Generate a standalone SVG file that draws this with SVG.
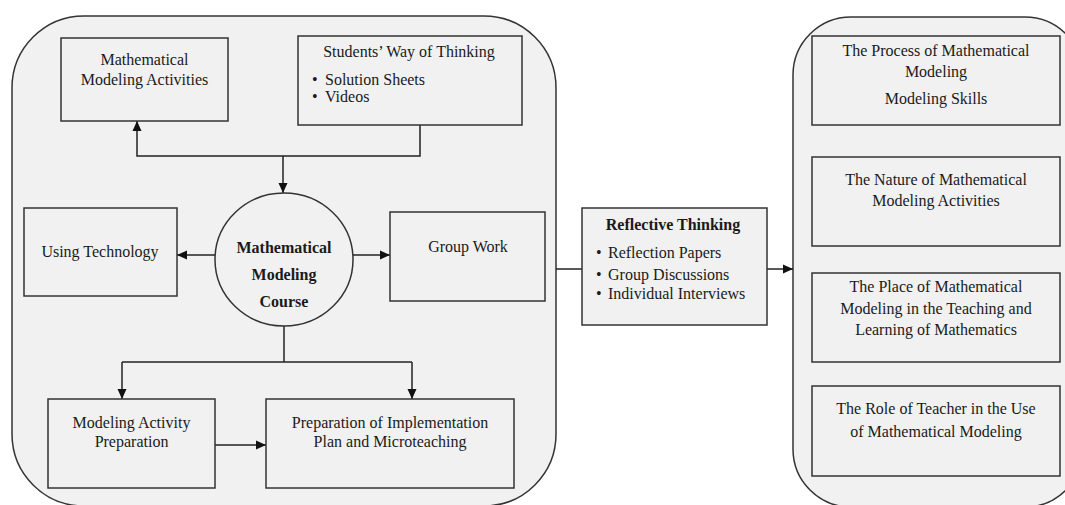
<svg xmlns="http://www.w3.org/2000/svg" width="1065" height="505" viewBox="0 0 1065 505">
<style>
.cont{fill:#f1f1f1;stroke:#333;stroke-width:1.5}
.box{fill:#f1f1f1;stroke:#333;stroke-width:1.5}
.t{font-family:"Liberation Serif","Times New Roman",serif;font-size:16px;fill:#1a1a1a;text-anchor:middle}
.l{font-family:"Liberation Serif","Times New Roman",serif;font-size:16px;fill:#1a1a1a}
.b{font-weight:bold}
.c{fill:none;stroke:#222;stroke-width:1.5}
</style>
<defs>
<marker id="ah" markerUnits="userSpaceOnUse" markerWidth="10" markerHeight="10" viewBox="0 0 10 10" refX="10" refY="5" orient="auto">
<path d="M0,0.5 L10,5 L0,9.5 Z" fill="#111"/>
</marker>
</defs>
<rect width="1065" height="505" fill="#fff"/>
<g id="left-container"><rect class="cont" x="12" y="16" width="544" height="490" rx="72" ry="72"/></g>
<g id="right-container"><rect class="cont" x="793" y="17" width="290" height="490" rx="58" ry="58"/></g>

<g id="connectors">
<path class="c" d="M420,125 V156 H137 V121" marker-end="url(#ah)"/>
<path class="c" d="M283,156 V193" marker-end="url(#ah)"/>
<path class="c" d="M215,255 H177" marker-end="url(#ah)"/>
<path class="c" d="M353,255 H390" marker-end="url(#ah)"/>
<path class="c" d="M284,326 V362"/>
<path class="c" d="M122,362 H412"/>
<path class="c" d="M122,362 V399" marker-end="url(#ah)"/>
<path class="c" d="M412,362 V399" marker-end="url(#ah)"/>
<path class="c" d="M215,445 H266" marker-end="url(#ah)"/>
<path class="c" d="M556,269 H582"/>
<path class="c" d="M767,269 H793" marker-end="url(#ah)"/>
</g>

<g id="mm-activities">
<rect class="box" x="61" y="38" width="167" height="83"/>
<text class="t" x="144.5" y="65">Mathematical</text>
<text class="t" x="144.5" y="85">Modeling Activities</text>
</g>
<g id="students-thinking">
<rect class="box" x="298" y="36" width="224" height="89"/>
<text class="t" x="409" y="57">Students’ Way of Thinking</text>
<text class="l" x="312" y="85">•</text><text class="l" x="325" y="85">Solution Sheets</text>
<text class="l" x="312" y="102">•</text><text class="l" x="325" y="102">Videos</text>
</g>
<g id="course">
<ellipse cx="284" cy="259.5" rx="69" ry="66.5" fill="#f1f1f1" stroke="#333" stroke-width="1.5"/>
<text class="t b" x="284" y="253">Mathematical</text>
<text class="t b" x="284" y="280">Modeling</text>
<text class="t b" x="284" y="307">Course</text>
</g>
<g id="using-technology">
<rect class="box" x="24" y="208" width="153" height="88"/>
<text class="t" x="100" y="257">Using Technology</text>
</g>
<g id="group-work">
<rect class="box" x="390" y="212" width="155" height="89"/>
<text class="t" x="468" y="252">Group Work</text>
</g>
<g id="activity-preparation">
<rect class="box" x="48" y="399" width="167" height="89"/>
<text class="t" x="131.5" y="428">Modeling Activity</text>
<text class="t" x="131.5" y="447">Preparation</text>
</g>
<g id="implementation-plan">
<rect class="box" x="266" y="399" width="248" height="89"/>
<text class="t" x="390" y="428">Preparation of Implementation</text>
<text class="t" x="390" y="447">Plan and Microteaching</text>
</g>
<g id="reflective-thinking">
<rect class="box" x="582" y="208" width="185" height="117"/>
<text class="t b" x="673" y="230">Reflective Thinking</text>
<text class="l" x="596" y="258">•</text><text class="l" x="608" y="258">Reflection Papers</text>
<text class="l" x="596" y="280">•</text><text class="l" x="608" y="280">Group Discussions</text>
<text class="l" x="596" y="299">•</text><text class="l" x="608" y="299">Individual Interviews</text>
</g>
<g id="process">
<rect class="box" x="812" y="36" width="248" height="89"/>
<text class="t" x="936" y="56">The Process of Mathematical</text>
<text class="t" x="936" y="77">Modeling</text>
<text class="t" x="936" y="104">Modeling Skills</text>
</g>
<g id="nature">
<rect class="box" x="812" y="157" width="248" height="89"/>
<text class="t" x="936" y="185">The Nature of Mathematical</text>
<text class="t" x="936" y="206">Modeling Activities</text>
</g>
<g id="place">
<rect class="box" x="812" y="273" width="248" height="89"/>
<text class="t" x="936" y="292">The Place of Mathematical</text>
<text class="t" x="936" y="314">Modeling in the Teaching and</text>
<text class="t" x="936" y="335">Learning of Mathematics</text>
</g>
<g id="role">
<rect class="box" x="812" y="386" width="248" height="90"/>
<text class="t" x="936" y="414">The Role of Teacher  in the Use</text>
<text class="t" x="936" y="437">of Mathematical  Modeling</text>
</g>
</svg>
